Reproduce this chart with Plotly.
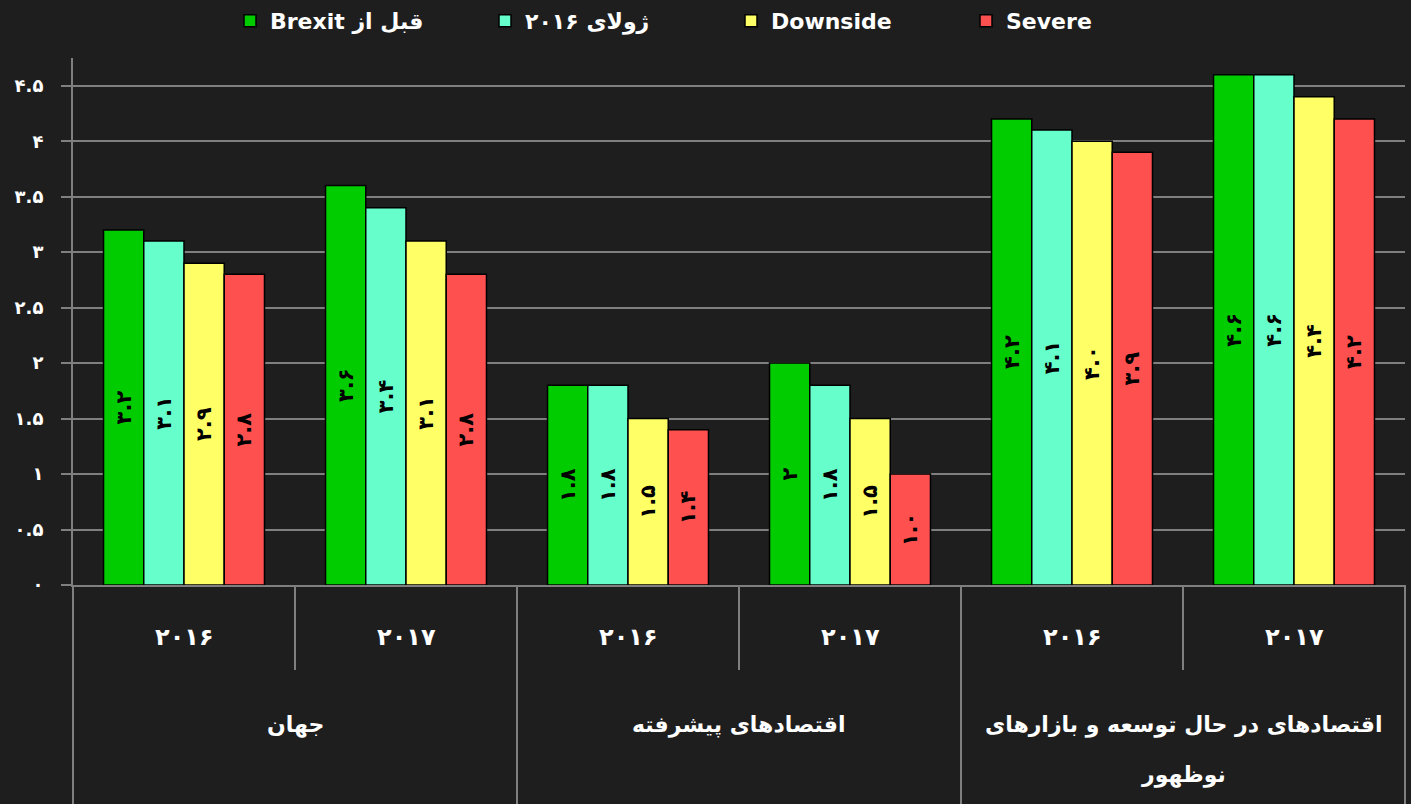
import plotly.graph_objects as go

# ---- data ----
groups = ["جهان", "اقتصادهای پیشرفته", "اقتصادهای در حال توسعه و بازارهای\nنوظهور"]
years = ["۲۰۱۶", "۲۰۱۷"]
series_names = ["Brexit قبل از", "ژولای ۲۰۱۶", "Downside", "Severe"]
pre_brexit = [3.2, 3.6, 1.8, 2, 4.2, 4.6]
july_2016 = [3.1, 3.4, 1.8, 1.8, 4.1, 4.6]
downside = [2.9, 3.1, 1.5, 1.5, 4.0, 4.4]
severe = [2.8, 2.8, 1.4, 1.0, 3.9, 4.2]
y_ticks = [0, 0.5, 1, 1.5, 2, 2.5, 3, 3.5, 4, 4.5]

colors = ["#00cc00", "#66ffcc", "#ffff66", "#ff5050"]
legend_px = [249, 504, 750, 985]  # left edge of each legend box (px)
BG = "#1e1e1e"
GRID = "#7f7f7f"
FONT = "DejaVu Sans, Noto Sans, sans-serif"
LRM = "\u200e"

FA = str.maketrans("0123456789", "۰۱۲۳۴۵۶۷۸۹")


def fa(v):
    return str(v).translate(FA)


cats = [f"{g}|{y}" for g in groups for y in years]
L, R, T, B = 73, 6, 58, 219
plot_w = 1411 - L - R
plot_h = 804 - T - B


def py(pix):
    return (585 - pix) / plot_h


fig = go.Figure()
legend_layouts = {}
for idx, (name, vals, col) in enumerate(zip(series_names, [pre_brexit, july_2016, downside, severe], colors)):
    lname = "legend" if idx == 0 else f"legend{idx + 1}"
    fig.add_trace(go.Bar(
        x=cats, y=vals, name=name, legend=lname,
        marker=dict(color=col, line=dict(color="black", width=1.5)),
        text=[fa(v) for v in vals],
        textposition="inside", insidetextanchor="middle", textangle=-90,
        textfont=dict(color="black", size=21, family=FONT, weight="bold"),
        hoverinfo="skip",
    ))
    legend_layouts[lname] = dict(
        orientation="h", x=(legend_px[idx] - 19 - L) / plot_w, xanchor="left",
        y=py(21), yanchor="middle",
        font=dict(color="white", size=22, family=FONT, weight="bold"),
        bgcolor="rgba(0,0,0,0)")

annotations = []
for i, c in enumerate(cats):
    yr = c.split("|")[1]
    annotations.append(dict(x=c, xref="x", y=py(637), yref="paper", text=yr, showarrow=False,
                            font=dict(color="white", size=24, family=FONT, weight="bold"),
                            yanchor="middle"))
for gi, g in enumerate(groups):
    lines = g.split("\n")
    for li, line in enumerate(lines):
        annotations.append(dict(x=(2 * gi + 1) / 6, xref="paper", y=py(725 + 50 * li), yref="paper",
                                text=LRM + line + LRM, showarrow=False,
                                font=dict(color="white", size=22, family=FONT, weight="bold"),
                                yanchor="middle", xanchor="center"))

shapes = []
n = len(cats)
for k in range(n + 1):
    outer = (k % 2 == 0)
    shapes.append(dict(type="line", xref="paper", yref="paper", x0=k / n, x1=k / n,
                       y0=0, y1=py(804) if outer else py(670),
                       line=dict(color=GRID, width=2)))

fig.update_layout(
    width=1411, height=804,
    paper_bgcolor=BG, plot_bgcolor=BG,
    margin=dict(l=L, r=R, t=T, b=B, autoexpand=False),
    barmode="group", bargap=0.275, bargroupgap=0,
    showlegend=True,
    xaxis=dict(type="category", showticklabels=False, showgrid=False, showline=True,
               linecolor=GRID, linewidth=2, ticks="", range=[-0.5, n - 0.5]),
    yaxis=dict(range=[0, 4.75], tickvals=y_ticks, ticktext=[fa(v) for v in y_ticks],
               showgrid=True, gridcolor=GRID, gridwidth=1.5, zeroline=False,
               showline=True, linecolor=GRID, linewidth=2,
               ticks="outside", ticklen=10, tickcolor=GRID, tickwidth=2, ticklabelstandoff=14,
               tickfont=dict(color="white", size=18, family=FONT, weight="bold")),
    annotations=annotations, shapes=shapes,
    **legend_layouts,
)

fig.write_html("out.html", config={"displayModeBar": False},
               post_script="document.body.style.margin='0';document.body.style.overflow='hidden';")
